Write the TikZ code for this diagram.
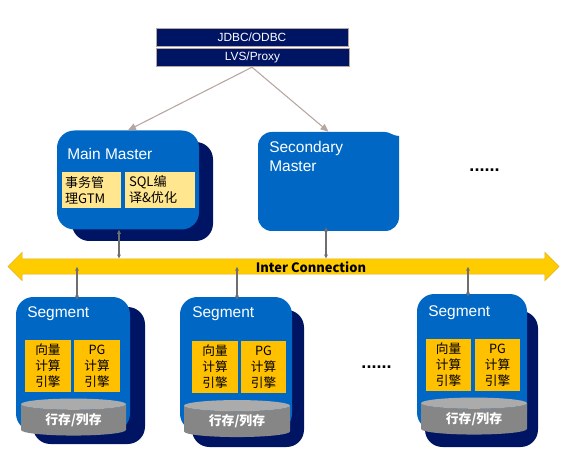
\documentclass[tikz,border=0pt]{standalone}
\usepackage{fontspec}
\setmainfont{Liberation Sans}
\newfontfamily\cjk{Noto Sans CJK SC}
\usetikzlibrary{shapes.geometric,shapes.arrows,arrows.meta}
\definecolor{navy}{HTML}{001464}
\definecolor{bluebox}{HTML}{0068C4}
\definecolor{paleyel}{HTML}{FFE68F}
\definecolor{amber}{HTML}{FFC000}
\definecolor{busfill}{HTML}{FFCC00}
\definecolor{busedge}{HTML}{E0B020}
\definecolor{tanline}{HTML}{B9A5A0}
\definecolor{greyline}{HTML}{6E6E6E}
\definecolor{cylbody}{HTML}{868686}
\definecolor{cyltop}{HTML}{ABABAB}
\tikzset{
  x=.75pt,y=-.75pt,
  hdr/.style={draw=tanline,line width=.3pt,fill=navy,text=white,font=\fontsize{8.9}{11}\selectfont,inner sep=0pt,minimum width=#1*.75pt,minimum height=18*.75pt},
  front/.style 2 args={fill=bluebox,rounded corners=13pt,inner sep=0pt,minimum width=#1*.75pt,minimum height=#2*.75pt},
  back/.style 2 args={fill=navy,rounded corners=13pt,inner sep=0pt,minimum width=#1*.75pt,minimum height=#2*.75pt},
  title/.style={text=white,font=\fontsize{11.6}{14.5}\selectfont,inner sep=0pt,anchor=west,align=left},
  pale/.style={fill=paleyel,inner sep=0pt,align=left,font=\cjk\fontsize{9.8}{12}\selectfont,minimum height=36*.75pt,minimum width=#1*.75pt},
  engine/.style={fill=amber,inner sep=0pt,align=center,font=\cjk\fontsize{9.5}{12}\selectfont,minimum width=45.5*.75pt,minimum height=52*.75pt},
  store/.style={cylinder,shape border rotate=90,aspect=.2,cylinder uses custom fill,cylinder body fill=cylbody,cylinder end fill=cyltop,
    text=white,font=\cjk\bfseries\fontsize{9.6}{12}\selectfont,inner sep=0pt,minimum width=#1*.75pt,minimum height=37*.75pt},
  tanarrow/.style={draw=tanline,line width=.8pt,-{Triangle[length=6pt,width=5pt]}},
  link/.style={draw=greyline,line width=.9pt,{Triangle[length=3pt,width=2.6pt]}-{Triangle[length=3pt,width=2.6pt]}},
  dotsnode/.style={inner sep=0pt,font=\bfseries\fontsize{13.5}{14}\selectfont}
}
\begin{document}
\begin{tikzpicture}
\useasboundingbox (0,0) rectangle (565,467);
\fill[white] (0,0) rectangle (565,467);
% top boxes
\node[hdr=192] (jdbc) at (252,37) {JDBC/ODBC};
\node[hdr=193] (lvs) at (252.5,57) {LVS/Proxy};
% main master
\node[back={141}{99}] (mmb) at (142.5,191.5) {};
\node[front={142}{99}] (mm) at (128,180) {};
\node[title] (mmt) at (67,154) {Main Master};
\node[pale=59,text width=52*.75pt] (gtm) at (91,190) {事务管\\理GTM};
\node[pale=70,text width=62*.75pt] (sql) at (160,190) {SQL编\\译\&优化};
% secondary master
\fill[bluebox] (258,146) .. controls (258,138) and (264,132) .. (272,132) -- (385,132) .. controls (390,132) and (393,136) .. (399,136) -- (399,217) .. controls (399,225) and (393,231) .. (385,231) -- (272,231) .. controls (264,231) and (258,225) .. (258,217) -- cycle;
\node[inner sep=0pt,minimum width=141*.75pt,minimum height=99*.75pt] (sm) at (328.5,181.5) {};
\node[title] (smt) at (269,156.5) {Secondary\\Master};
\node[dotsnode] (d1) at (484.5,170) {......};
% bus
\node[double arrow,fill=busfill,draw=busedge,line width=.5pt,inner sep=0pt,minimum height=551*.75pt,
  double arrow head extend=4.9pt,double arrow head indent=0pt] (bus) at (283.5,266.5) {\rule{0pt}{10.9pt}};
\node[inner sep=0pt,font=\cjk\bfseries\fontsize{9.7}{12}\selectfont] (bust) at (311,267) {Inter Connection};
% segments
\node[back={112}{137}] (s1b) at (89,375.5) {};
\node[front={114}{134}] (s1) at (73,364) {};
\node[title] (s1t) at (27,314) {Segment};
\node[engine] (s1a) at (48,366) {向量\\计算\\引擎};
\node[engine] (s1p) at (97,366) {PG\\计算\\引擎};
\node[store=105] (s1c) at (73.5,420) {行存/列存};

\node[back={112}{137}] (s2b) at (248,378.5) {};
\node[front={112}{134}] (s2) at (236,364) {};
\node[title] (s2t) at (192,314) {Segment};
\node[engine] (s2a) at (215,367) {向量\\计算\\引擎};
\node[engine] (s2p) at (263.5,367) {PG\\计算\\引擎};
\node[store=106] (s2c) at (237,421.5) {行存/列存};

\node[back={113}{136}] (s3b) at (481.5,379) {};
\node[front={110}{136}] (s3) at (472,362) {};
\node[title] (s3t) at (428,312.5) {Segment};
\node[engine] (s3a) at (448.5,365) {向量\\计算\\引擎};
\node[engine] (s3p) at (497.5,365) {PG\\计算\\引擎};
\node[store=106] (s3c) at (474,419) {行存/列存};
\node[dotsnode] (d2) at (376.5,367) {......};
% connectors
\draw[tanarrow] (lvs.south) ++(-.5,1) -- (mm.north);
\draw[tanarrow] (lvs.south) ++(-.5,1) -- (sm.north);
\coordinate (xa) at (119,0);
\coordinate (xb) at (326,0);
\coordinate (xc) at (77,0);
\coordinate (xd) at (237,0);
\coordinate (xe) at (468,0);
\draw[link] (xa |- mm.south) -- (xa |- bus.north);
\draw[link] (xb |- sm.south) ++(0,-4) -- (xb |- bus.north);
\draw[link] (xc |- s1.north) ++(0,3) -- ++(0,-33);
\draw[link] (xd |- s2.north) ++(0,3) -- ++(0,-33);
\draw[link] (xe |- s3.north) ++(0,3) -- ++(0,-30);
\end{tikzpicture}
\end{document}
